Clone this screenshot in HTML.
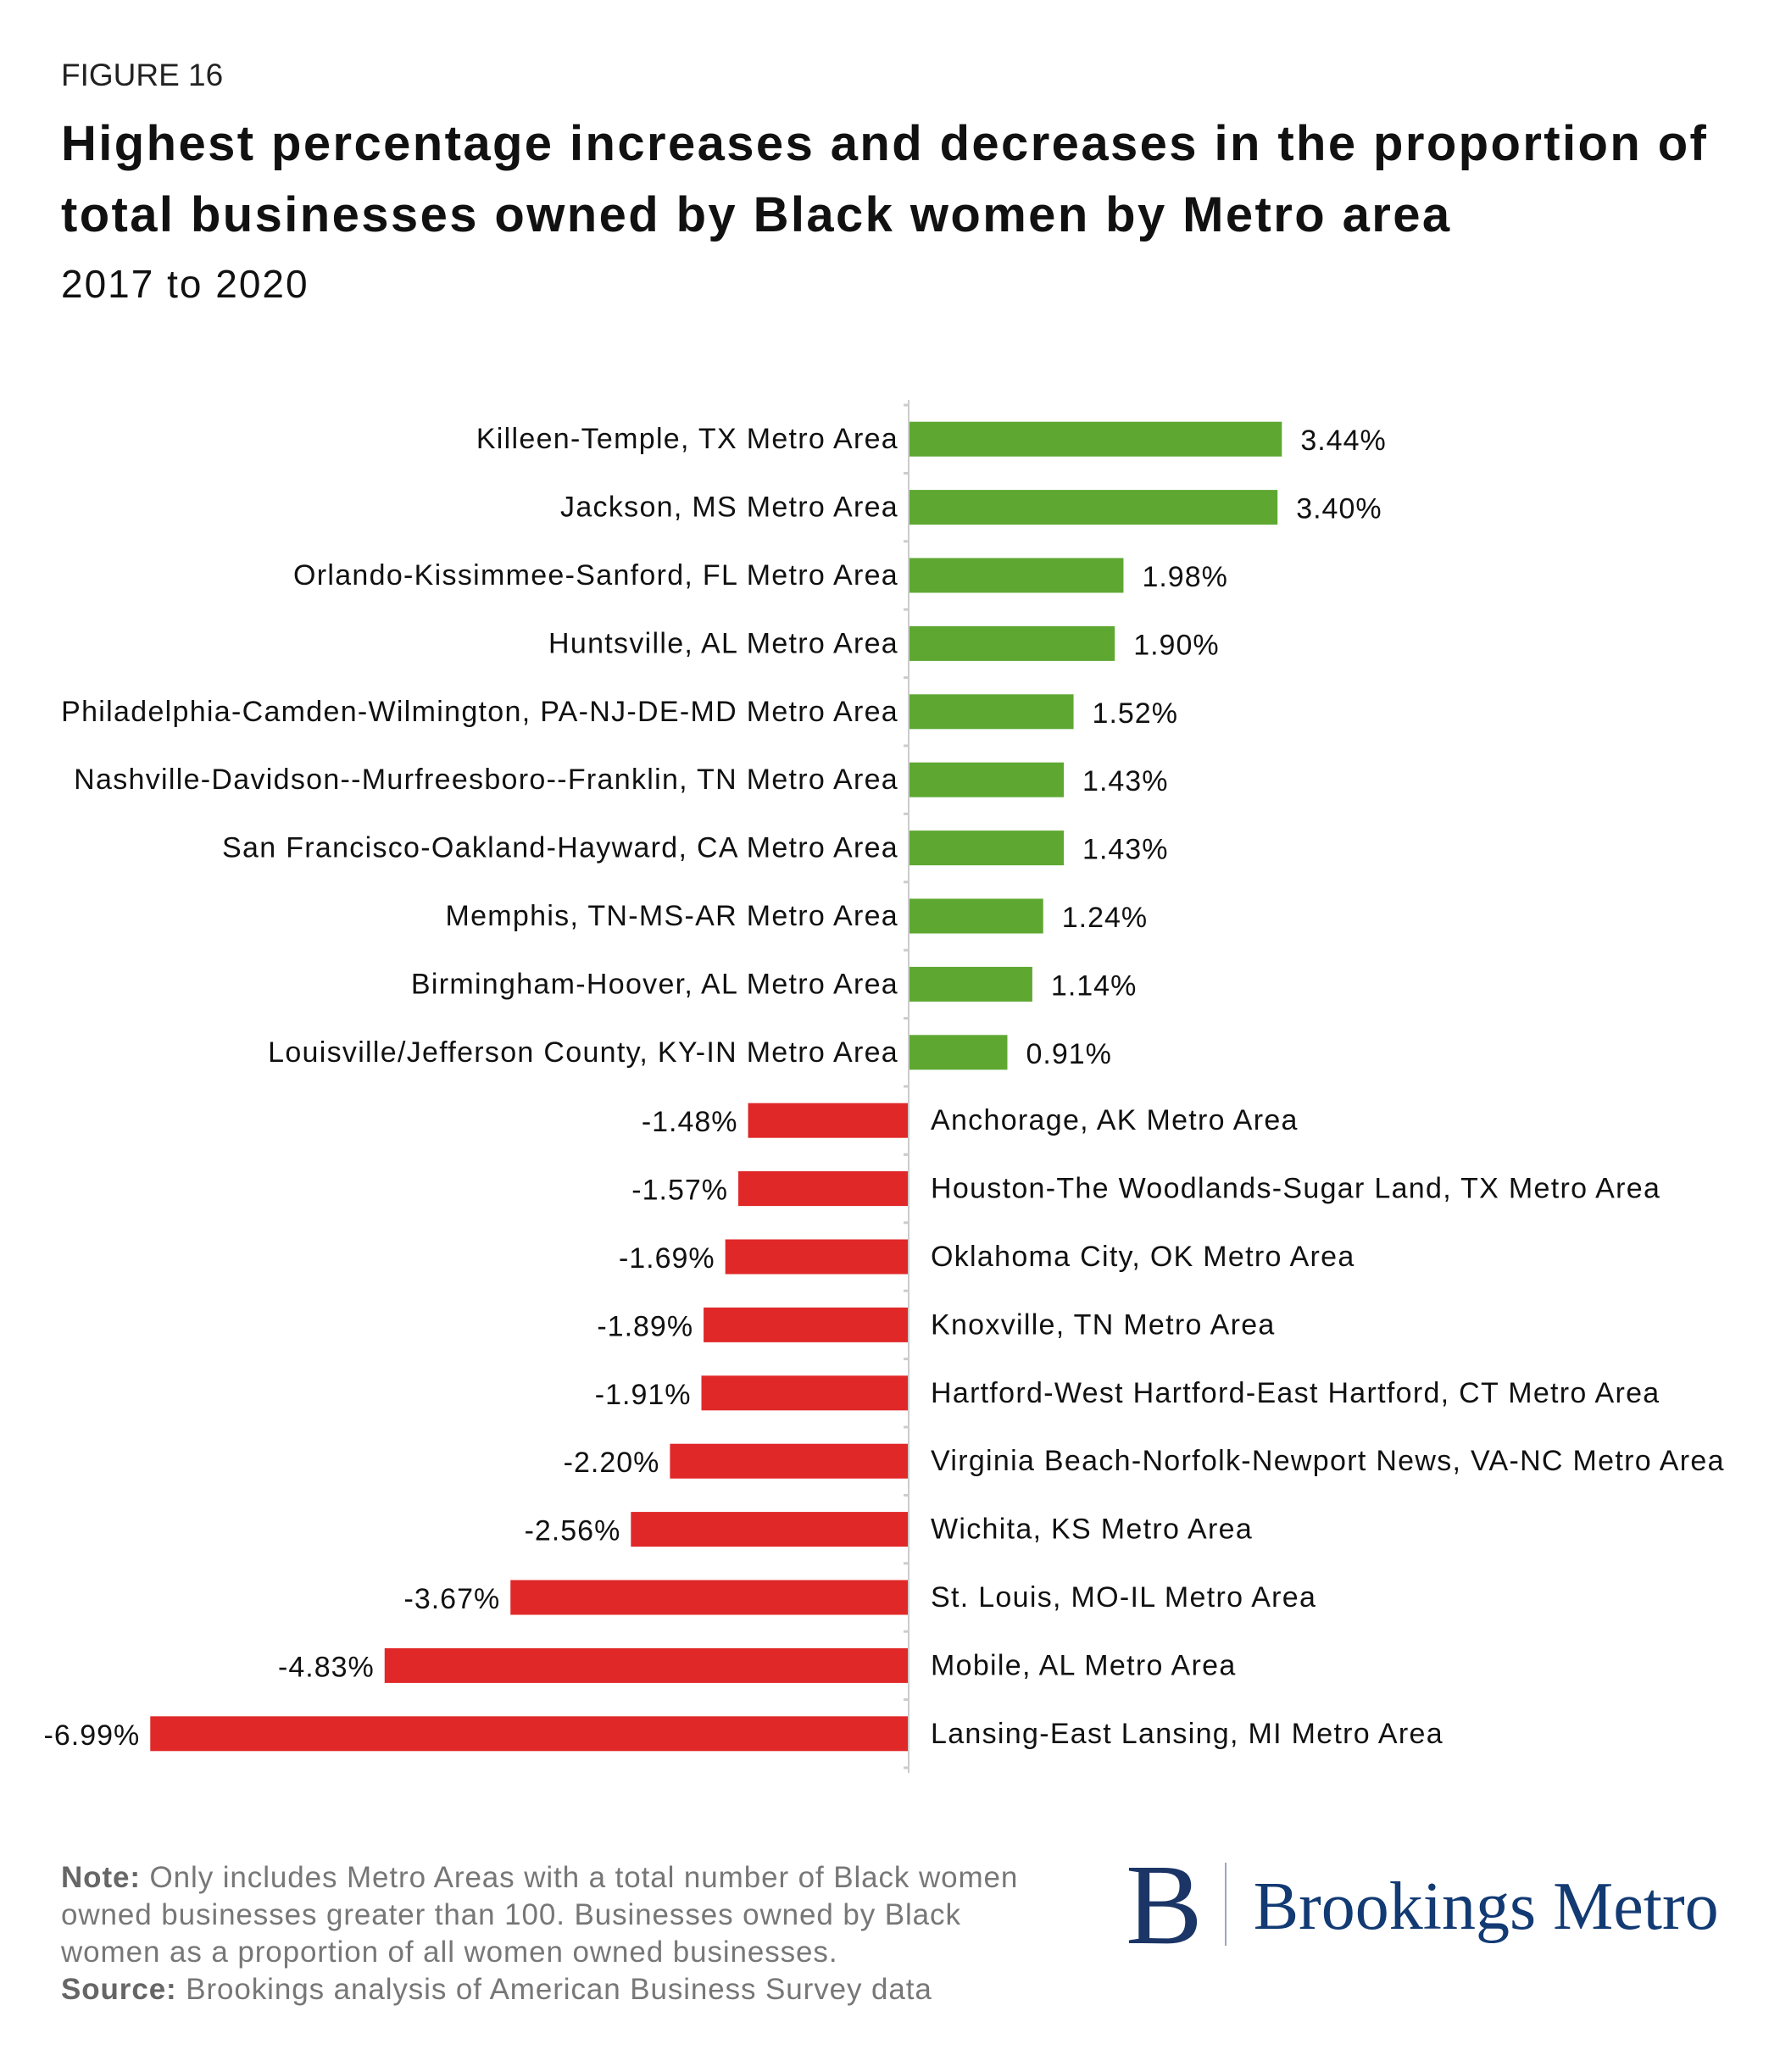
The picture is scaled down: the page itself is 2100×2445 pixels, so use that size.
<!DOCTYPE html>
<html><head><meta charset="utf-8"><style>
body{margin:0;background:#fff;width:2100px;height:2445px;overflow:hidden;font-family:"Liberation Sans",Arial,sans-serif}
.t{position:absolute;left:72px;white-space:nowrap}
</style></head><body>
<div class="t" style="top:68px;font-size:37px;color:#222">FIGURE 16</div>
<div class="t" style="top:128px;font-size:58px;font-weight:bold;line-height:84px;color:#111;letter-spacing:2.4px">Highest percentage increases and decreases in the proportion of<br>total businesses owned by Black women by Metro area</div>
<div class="t" style="top:308px;font-size:46px;color:#111;letter-spacing:2px">2017 to 2020</div>
<svg id="chart" width="2100" height="2445" style="position:absolute;left:0;top:0"></svg>
<div class="t" style="top:2194px;font-size:35px;line-height:44px;color:#777;letter-spacing:0.9px">
<b style="color:#666">Note:</b> Only includes Metro Areas with a total number of Black women<br>owned businesses greater than 100. Businesses owned by Black<br>women as a proportion of all women owned businesses.<br><b style="color:#666">Source:</b> Brookings analysis of American Business Survey data</div>
<div style="position:absolute;left:1328px;top:2180px;font-family:'Liberation Serif',serif;color:#1b3566;white-space:nowrap">
<span style="font-size:136px;line-height:136px;display:inline-block;vertical-align:top">B</span>
<span style="display:inline-block;width:2px;height:98px;background:#9aa6bf;margin:18px 28px 0 22px;vertical-align:top"></span>
<span style="font-size:80px;line-height:80px;display:inline-block;vertical-align:top;margin-top:30px;color:#123a73">Brookings Metro</span>
</div>
<script>
const categories=["Killeen-Temple, TX Metro Area","Jackson, MS Metro Area","Orlando-Kissimmee-Sanford, FL Metro Area","Huntsville, AL Metro Area","Philadelphia-Camden-Wilmington, PA-NJ-DE-MD Metro Area","Nashville-Davidson--Murfreesboro--Franklin, TN Metro Area","San Francisco-Oakland-Hayward, CA Metro Area","Memphis, TN-MS-AR Metro Area","Birmingham-Hoover, AL Metro Area","Louisville/Jefferson County, KY-IN Metro Area","Anchorage, AK Metro Area","Houston-The Woodlands-Sugar Land, TX Metro Area","Oklahoma City, OK Metro Area","Knoxville, TN Metro Area","Hartford-West Hartford-East Hartford, CT Metro Area","Virginia Beach-Norfolk-Newport News, VA-NC Metro Area","Wichita, KS Metro Area","St. Louis, MO-IL Metro Area","Mobile, AL Metro Area","Lansing-East Lansing, MI Metro Area"];
const values=[3.44,3.40,1.98,1.90,1.52,1.43,1.43,1.24,1.14,0.91,-1.48,-1.57,-1.69,-1.89,-1.91,-2.20,-2.56,-3.67,-4.83,-6.99];
const valueLabels=["3.44%","3.40%","1.98%","1.90%","1.52%","1.43%","1.43%","1.24%","1.14%","0.91%","-1.48%","-1.57%","-1.69%","-1.89%","-1.91%","-2.20%","-2.56%","-3.67%","-4.83%","-6.99%"];
const svg=document.getElementById('chart');const NS='http://www.w3.org/2000/svg';
const x0=1072,k=128,y0=478,step=80.4,bh=41;
const xs=v=>x0+v*k;const yc=i=>y0+step*(i+0.5);
function mk(t,a){const e=document.createElementNS(NS,t);for(const n in a)e.setAttribute(n,a[n]);svg.appendChild(e);return e;}
categories.forEach((c,i)=>{
 const v=values[i],x1=Math.min(xs(0),xs(v)),w=Math.abs(xs(v)-xs(0));
 const r=mk('rect',{x:x1,y:yc(i)-bh/2,width:w,height:bh,fill:v>=0?'#5ea832':'#e02828'});
 
 
 const lab=mk('text',{x:v>=0?x0-12:x0+26,y:yc(i)+11,'font-size':34,'letter-spacing':1.3,'text-anchor':v>=0?'end':'start',fill:'#111','font-family':'Liberation Sans, Arial, sans-serif'});
 lab.textContent=c;
 
 
 const vl=mk('text',{x:v>=0?xs(v)+22:xs(v)-12,y:yc(i)+13,'font-size':34,'letter-spacing':1,'text-anchor':v>=0?'start':'end',fill:'#111','font-family':'Liberation Sans, Arial, sans-serif'});
 vl.textContent=valueLabels[i];
 
 
});
for(let i=0;i<=categories.length;i++){const t=mk('line',{x1:x0-6,x2:x0,y1:y0+step*i,y2:y0+step*i,stroke:'#ccc','stroke-width':3});
 
 }
const ax=mk('line',{x1:x0,x2:x0,y1:y0-6,y2:y0+step*categories.length+6,stroke:'#ccc','stroke-width':2});


</script>
</body></html>
